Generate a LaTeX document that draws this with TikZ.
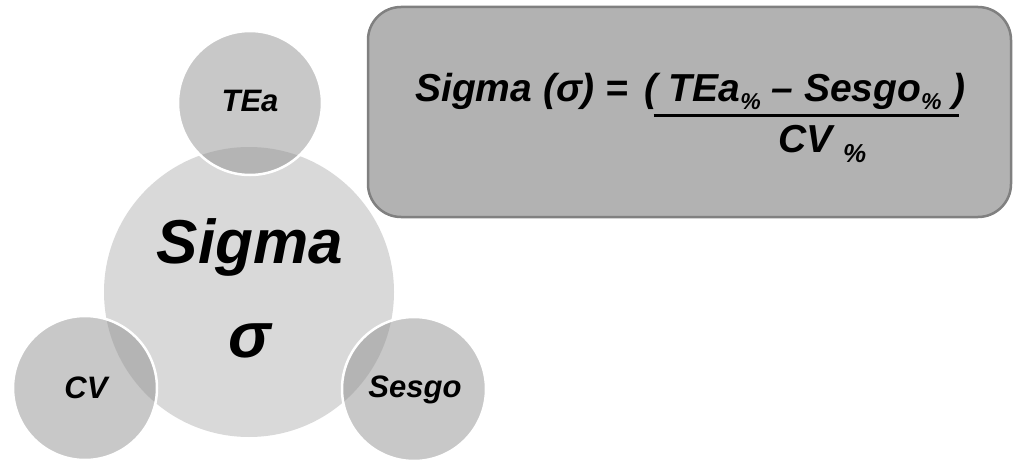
\documentclass[tikz,border=0pt]{standalone}
\usepackage{fontspec}
\setmainfont{Liberation Sans}
\usetikzlibrary{calc}

% small lowered percent signs used as subscripts
\newcommand\pctsub{\raisebox{-8pt}{\fontsize{23}{23}\selectfont\%}}
\newcommand\pctden{\raisebox{-10pt}{\fontsize{26}{26}\selectfont\%}}

\begin{document}
\begin{tikzpicture}[x=1pt,y=-1pt,
  bigdisc/.style={circle, inner sep=0pt, minimum size=290pt, fill=black!15},
  smalldisc/.style={circle, inner sep=0pt, minimum size=144pt,
    fill=black!43, fill opacity=0.5, draw=white, line width=2.5pt},
  label/.style={inner sep=0pt, anchor=base, font=\bfseries\itshape},
  formula/.style={inner sep=0pt, anchor=base west,
    font=\fontsize{39}{44}\selectfont\bfseries\itshape},
  panel/.style={rounded corners=33pt, draw=black!50, fill=black!30,
    line width=2.5pt, minimum width=643pt, minimum height=210pt, inner sep=0pt}]

  \useasboundingbox (0,0) rectangle (1013,460);

  % formula panel
  \node[panel] (box) at (689.5,112) {};

  % central circle and the three factors around it
  \node[bigdisc] (sigma) at (249,292) {};
  \node[smalldisc] (tea) at (250,103) {};
  \node[smalldisc] (cv) at (85,388) {};
  \node[smalldisc] (sesgo) at (414,389) {};

  \node[label, font=\fontsize{62}{70}\selectfont\bfseries\itshape] (sigmaword) at (250,263) {Sigma};
  \node[label, font=\fontsize{64}{70}\selectfont\bfseries\itshape] (sigmasym) at (250,357) {σ};
  \node[label, font=\fontsize{31}{36}\selectfont\bfseries\itshape] (tealbl) at (250,112) {TEa};
  \node[label, font=\fontsize{31}{36}\selectfont\bfseries\itshape] (cvlbl) at (86,398) {CV};
  \node[label, font=\fontsize{31}{36}\selectfont\bfseries\itshape] (sesgolbl) at (415,397) {Sesgo};

  % the formula
  \node[formula] (lhs) at (415,102) {Sigma (σ) =};
  \node[formula] (num) at ($(lhs.base east)+(16,0)$) {(\ TEa\pctsub{} – Sesgo\pctsub{}\ )};
  \node[formula] (den) at (778,152) {CV \pctden};
  \draw[line width=3pt] ($(num.west |- 0,116)+(9,0)$) -- ($(num.east |- 0,116)+(-7,0)$);
\end{tikzpicture}
\end{document}
